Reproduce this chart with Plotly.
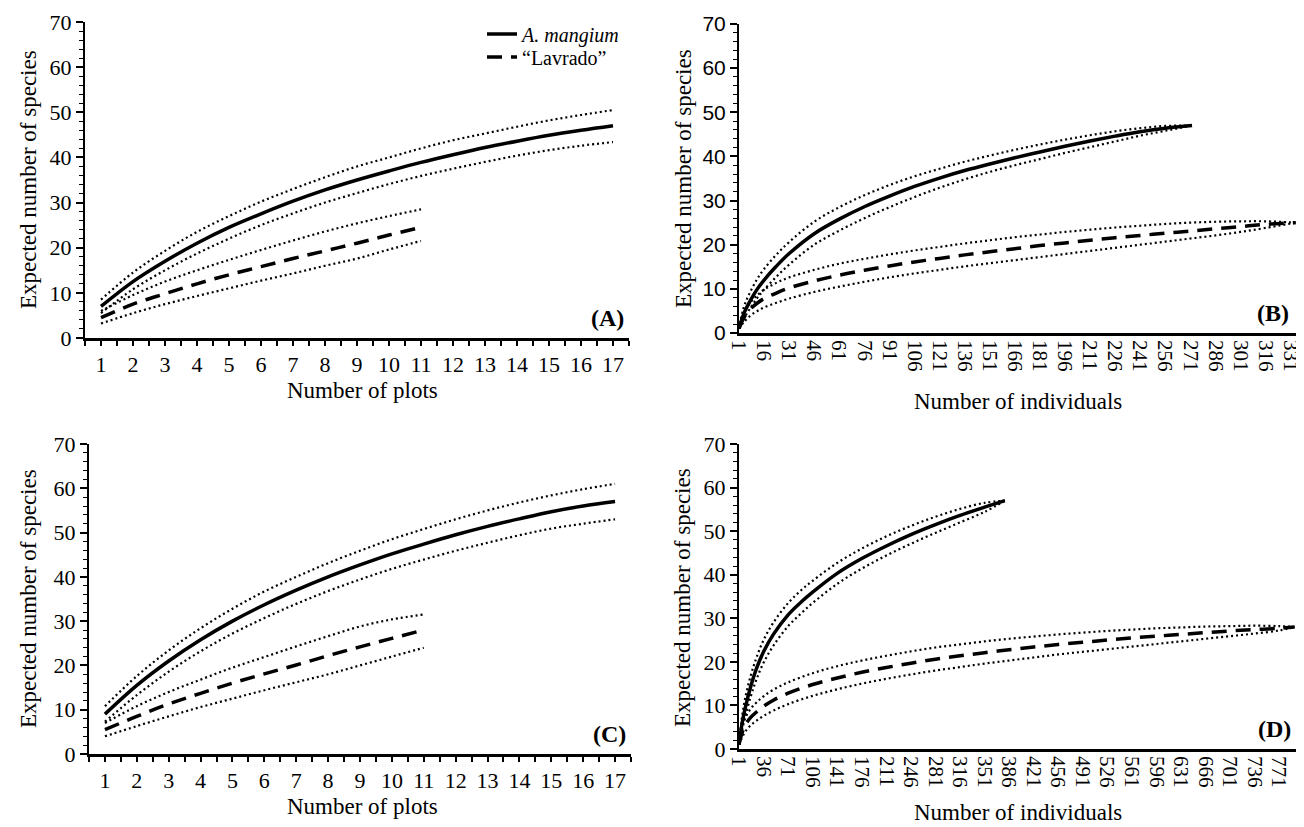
import plotly.graph_objects as go

# ---------------- DATA ----------------
# Panel A: sample-based (plots)
plots_am = list(range(1, 18))
A_am = [7, 12.5, 17, 21, 24.5, 27.5, 30.3, 32.8, 35, 37, 38.9, 40.6, 42.2, 43.6, 44.9, 46, 47]
A_am_up = [8.5, 14.5, 19.3, 23.5, 27, 30.2, 33, 35.6, 38, 40, 42, 43.8, 45.3, 46.8, 48.2, 49.4, 50.5]
A_am_lo = [5.5, 10.8, 15, 18.7, 22, 25, 27.6, 30, 32.1, 34.1, 35.9, 37.5, 39, 40.4, 41.6, 42.6, 43.4]
plots_lv = list(range(1, 12))
A_lv = [4.5, 7.5, 9.8, 12, 14, 15.8, 17.6, 19.3, 21, 22.8, 24.5]
A_lv_up = [6, 9.5, 12.5, 15, 17.3, 19.5, 21.6, 23.6, 25.4, 27, 28.5]
A_lv_lo = [3.2, 5.5, 7.5, 9.3, 11, 12.7, 14.3, 16, 17.6, 19.6, 21.5]

# Panel B: individual-based
B_x_am = [1, 4, 8, 12, 16, 23, 31, 46, 61, 76, 91, 106, 121, 136, 151, 166, 181, 196, 211, 226, 241, 256, 272]
B_am = [1, 4.5, 7.5, 10, 12, 15, 18, 22.5, 25.8, 28.6, 31, 33.2, 35.1, 36.8, 38.3, 39.7, 41, 42.3, 43.5, 44.6, 45.6, 46.4, 47]
B_am_up = [1, 6, 9.5, 12.3, 14.5, 17.6, 20.6, 25.2, 28.5, 31.2, 33.5, 35.5, 37.2, 38.8, 40.2, 41.5, 42.7, 43.8, 44.8, 45.7, 46.4, 46.9, 47]
B_am_lo = [1, 3.3, 5.8, 8, 9.8, 12.6, 15.5, 20, 23.2, 26, 28.5, 30.8, 32.9, 34.8, 36.5, 38, 39.4, 40.8, 42.1, 43.4, 44.7, 45.8, 47]
B_x_lv = [1, 4, 8, 12, 16, 23, 31, 46, 61, 76, 91, 106, 121, 136, 151, 166, 181, 196, 211, 226, 241, 256, 271, 286, 301, 316, 334]
B_lv = [1, 3.5, 5.5, 6.8, 7.8, 9, 10.2, 11.8, 13.1, 14.2, 15.2, 16.1, 16.9, 17.7, 18.4, 19.1, 19.8, 20.4, 21, 21.6, 22.1, 22.6, 23.1, 23.6, 24.1, 24.6, 25]
B_lv_up = [1, 4.6, 7, 8.6, 9.8, 11.3, 12.6, 14.3, 15.7, 16.8, 17.8, 18.7, 19.5, 20.3, 21, 21.7, 22.3, 22.9, 23.4, 23.9, 24.3, 24.7, 25, 25.2, 25.3, 25.3, 25]
B_lv_lo = [1, 2.5, 4, 5, 5.8, 6.8, 7.8, 9.3, 10.5, 11.6, 12.6, 13.5, 14.3, 15.1, 15.8, 16.5, 17.2, 17.9, 18.6, 19.3, 20, 20.7, 21.4, 22.1, 22.9, 23.8, 25]

# Panel C: sample-based (plots)
C_am = [9, 15.5, 21, 25.8, 30, 33.7, 37, 40, 42.7, 45.2, 47.4, 49.5, 51.4, 53.1, 54.7, 56, 57]
C_am_up = [10.8, 17.6, 23.4, 28.4, 32.8, 36.7, 40, 43.1, 45.9, 48.5, 50.8, 53, 55, 56.8, 58.4, 59.8, 61]
C_am_lo = [7.3, 13.3, 18.6, 23.2, 27.2, 30.7, 33.9, 36.8, 39.4, 41.8, 43.9, 45.9, 47.7, 49.4, 50.9, 52, 53]
C_lv = [5.5, 8.5, 11.3, 13.7, 16, 18.1, 20.1, 22.2, 24.2, 26.1, 28]
C_lv_up = [7, 10.8, 14, 16.8, 19.5, 21.9, 24.3, 26.6, 28.8, 30.4, 31.5]
C_lv_lo = [4, 6.3, 8.5, 10.6, 12.5, 14.4, 16.2, 18, 20, 22, 24]

# Panel D: individual-based
D_x_am = [1, 5, 10, 18, 26, 36, 50, 71, 90, 106, 141, 176, 211, 246, 281, 316, 351, 380]
D_am = [1, 5.5, 9.5, 14.5, 18.5, 22.3, 26.3, 30.8, 33.8, 36, 40.3, 43.7, 46.6, 49.2, 51.5, 53.6, 55.5, 57]
D_am_up = [1, 7, 11.8, 17, 21, 25, 29, 33.5, 36.5, 38.6, 42.7, 46, 48.8, 51.2, 53.3, 55.1, 56.5, 57]
D_am_lo = [1, 4, 7.5, 12.2, 16, 19.8, 23.7, 28.2, 31.2, 33.5, 37.9, 41.4, 44.4, 47.1, 49.6, 52, 54.4, 57]
D_x_lv = [1, 5, 10, 18, 26, 36, 50, 71, 106, 141, 176, 211, 246, 281, 316, 351, 386, 421, 456, 491, 526, 561, 596, 631, 666, 701, 736, 771, 793]
D_lv = [1, 3.5, 5.5, 7.3, 8.5, 9.8, 11.2, 12.8, 14.8, 16.3, 17.6, 18.7, 19.7, 20.6, 21.4, 22.1, 22.8, 23.4, 24, 24.5, 25, 25.5, 25.9, 26.3, 26.7, 27.1, 27.4, 27.7, 28]
D_lv_up = [1, 4.8, 7.2, 9.3, 10.7, 12.1, 13.6, 15.3, 17.4, 19, 20.3, 21.4, 22.4, 23.3, 24, 24.7, 25.3, 25.8, 26.3, 26.7, 27.1, 27.4, 27.7, 27.9, 28.1, 28.2, 28.3, 28.2, 28]
D_lv_lo = [1, 2.5, 4, 5.5, 6.5, 7.6, 8.8, 10.3, 12.2, 13.7, 15, 16.1, 17.1, 18, 18.8, 19.6, 20.3, 21, 21.7, 22.3, 22.9, 23.5, 24.1, 24.7, 25.3, 25.9, 26.5, 27.2, 28]

plot_ticks = list(range(1, 18))
B_ticks = list(range(1, 332, 15))
D_ticks = list(range(1, 772, 35))
y_ticks = list(range(0, 71, 10))

# ---------------- STYLE ----------------
SERIF = "Liberation Serif, Times New Roman, serif"
SANS = "Liberation Sans, Arial, sans-serif"
W, H = 1304, 827
OFF = 8  # page offset of the figure div (body margin)

def xd(a, b):
    return [(a - OFF) / W, (b - OFF) / W]

def yd(top, bot):
    return [(H - (bot - OFF)) / H, (H - (top - OFF)) / H]

def px(x):
    return (x - OFF) / W

def py(y):
    return (H - (y - OFF)) / H

SOLID = dict(color="black", width=3.5)
DASH = dict(color="black", width=3.5, dash="15px,9px")
DOT = dict(color="black", width=2.2, dash="2px,3px")

fig = go.Figure()

def add_panel(xa, ya, x_am, am, am_up, am_lo, x_lv, lv, lv_up, lv_lo, legend=False, shape="spline"):
    for y in (am_up, am_lo):
        fig.add_trace(go.Scatter(x=x_am, y=y, mode="lines", line=dict(**DOT, shape=shape),
                                 xaxis=xa, yaxis=ya, showlegend=False, hoverinfo="skip"))
    for y in (lv_up, lv_lo):
        fig.add_trace(go.Scatter(x=x_lv, y=y, mode="lines", line=dict(**DOT, shape=shape),
                                 xaxis=xa, yaxis=ya, showlegend=False, hoverinfo="skip"))
    fig.add_trace(go.Scatter(x=x_am, y=am, mode="lines", line=dict(**SOLID, shape=shape),
                             name="<i>A. mangium</i>", xaxis=xa, yaxis=ya, showlegend=legend,
                             legend="legend"))
    fig.add_trace(go.Scatter(x=x_lv, y=lv, mode="lines", line=dict(**DASH, shape=shape),
                             name="\u201cLavrado\u201d", xaxis=xa, yaxis=ya, showlegend=legend,
                             legend="legend2"))

add_panel("x", "y", plots_am, A_am, A_am_up, A_am_lo, plots_lv, A_lv, A_lv_up, A_lv_lo, legend=True)
add_panel("x2", "y2", B_x_am, B_am, B_am_up, B_am_lo, B_x_lv, B_lv, B_lv_up, B_lv_lo)
add_panel("x3", "y3", plots_am, C_am, C_am_up, C_am_lo, plots_lv, C_lv, C_lv_up, C_lv_lo)
add_panel("x4", "y4", D_x_am, D_am, D_am_up, D_am_lo, D_x_lv, D_lv, D_lv_up, D_lv_lo)

tickfont = dict(family=SERIF, size=22, color="black")
rotfont = dict(family=SERIF, size=21, color="black")

def yaxis(domain, anchor, font):
    return dict(domain=domain, anchor=anchor, range=[0, 70], tickvals=y_ticks, automargin=False,
                showline=True, linecolor="black", linewidth=2, ticks="outside",
                ticklen=7, tickwidth=1.5, tickcolor="black", showgrid=False, zeroline=False,
                tickfont=font, minor=dict(dtick=2, tick0=0, ticks="outside", ticklen=4,
                                          tickwidth=1.2, tickcolor="black", showgrid=False))

def plots_xaxis(domain, anchor):
    return dict(domain=domain, anchor=anchor, range=[0.5, 17.5], tickvals=plot_ticks, automargin=False,
                showline=True, linecolor="black", linewidth=2.5, ticks="outside", ticklen=5,
                tickwidth=1.5, tickcolor="black", showgrid=False, zeroline=False, tickfont=tickfont,
                minor=dict(tickvals=[i + 0.5 for i in range(0, 18)], ticks="outside", ticklen=5,
                           tickwidth=1.5, tickcolor="black", showgrid=False))

def ind_xaxis(domain, anchor, rng, tv):
    return dict(domain=domain, anchor=anchor, range=rng, tickvals=tv, tickangle=90, automargin=False,
                showline=True, linecolor="black", linewidth=2.5, ticks="", showgrid=False,
                zeroline=False, tickfont=rotfont)

legfont = dict(family=SERIF, size=20, color="black")

fig.update_layout(
    width=W, height=H, autosize=False,
    margin=dict(l=0, r=0, t=0, b=0, pad=0, autoexpand=False),
    paper_bgcolor="white", plot_bgcolor="white",
    font=dict(family=SERIF, color="black", size=20),
    xaxis=plots_xaxis(xd(85, 629), "y"),
    yaxis=yaxis(yd(22, 338), "x", tickfont),
    xaxis2=ind_xaxis(xd(739, 1299), "y2", [1, 336], B_ticks),
    yaxis2=yaxis(yd(24, 333), "x2", dict(family=SANS, size=21, color="black")),
    xaxis3=plots_xaxis(xd(89, 631), "y3"),
    yaxis3=yaxis(yd(444, 754), "x3", tickfont),
    xaxis4=ind_xaxis(xd(739, 1296), "y4", [1, 795], D_ticks),
    yaxis4=yaxis(yd(444, 749), "x4", tickfont),
    legend=dict(x=px(482), y=py(34), xanchor="left", yanchor="middle",
                font=legfont, bgcolor="rgba(0,0,0,0)", itemwidth=30),
    legend2=dict(x=px(482), y=py(57), xanchor="left", yanchor="middle",
                 font=legfont, bgcolor="rgba(0,0,0,0)", itemwidth=30),
    showlegend=True,
)

ann = []
def panel_label(txt, xr, yr, x=0.995):
    ann.append(dict(text=f"<b>{txt}</b>", xref=f"{xr} domain", yref=f"{yr} domain", x=x, y=0.015,
                    xanchor="right", yanchor="bottom", showarrow=False,
                    font=dict(family=SERIF, size=24, color="black")))

panel_label("(A)", "x", "y")
panel_label("(B)", "x2", "y2", 0.985)
panel_label("(C)", "x3", "y3")
panel_label("(D)", "x4", "y4")

def title(txt, x, y, angle=0):
    ann.append(dict(text=txt, xref="paper", yref="paper", x=px(x), y=py(y),
                    xanchor="center", yanchor="middle", showarrow=False, textangle=angle,
                    font=dict(family=SERIF, size=23, color="black")))

title("Number of plots", 362, 390)
title("Number of individuals", 1018, 401)
title("Number of plots", 362, 806)
title("Number of individuals", 1018, 812)
title("Expected number of species", 28, 180, -90)
title("Expected number of species", 683, 178, -90)
title("Expected number of species", 28, 599, -90)
title("Expected number of species", 683, 597, -90)

fig.update_layout(annotations=ann)
fig.write_html("out.html")
